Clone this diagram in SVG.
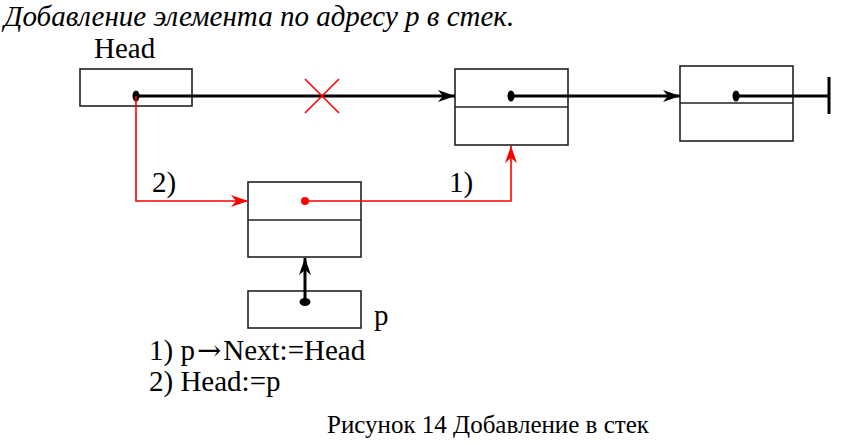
<svg xmlns="http://www.w3.org/2000/svg" width="850" height="445" viewBox="0 0 850 445">
<style>
.box{fill:none;stroke:#222;stroke-width:1.6}
.t{font-family:"Liberation Serif","Times New Roman",serif;fill:#000}
.blk{stroke:#000;stroke-width:3;fill:none}
.red{stroke:#f00;stroke-width:1.6;fill:none}
</style>
<defs>
<marker id="ab" markerWidth="18" markerHeight="12" refX="17" refY="6" orient="auto" markerUnits="userSpaceOnUse">
<path d="M0,0 L17,6 L0,12 L5,6 Z" fill="#000"/>
</marker>
<marker id="ar" markerWidth="18" markerHeight="12" refX="17" refY="6" orient="auto" markerUnits="userSpaceOnUse">
<path d="M0,0 L17,6 L0,12 L5,6 Z" fill="#f00"/>
</marker>
</defs>
<rect width="850" height="445" fill="#fff"/>
<text class="t" x="4" y="26" font-size="29" font-style="italic">Добавление элемента по адресу p в стек.</text>
<g id="head">
<text class="t" x="94" y="58" font-size="29">Head</text>
<rect class="box" x="80" y="69" width="112" height="37"/>
<ellipse cx="136" cy="96" rx="3.5" ry="5.5"/>
</g>
<g id="node2">
<rect class="box" x="455" y="69" width="113" height="76"/>
<line class="box" x1="455" y1="107" x2="568" y2="107"/>
<ellipse cx="511" cy="96" rx="3.5" ry="5.5"/>
</g>
<g id="node3">
<rect class="box" x="680" y="66" width="113" height="75"/>
<line class="box" x1="680" y1="103" x2="793" y2="103"/>
<ellipse cx="736" cy="96" rx="3.5" ry="5.5"/>
</g>
<g id="newnode">
<rect class="box" x="248" y="182" width="113" height="75"/>
<line class="box" x1="248" y1="220" x2="361" y2="220"/>
<circle cx="305" cy="201" r="4" fill="#f00"/>
</g>
<g id="p">
<rect class="box" x="248" y="291" width="113" height="37"/>
<ellipse cx="305" cy="302" rx="5.5" ry="4"/>
<text class="t" x="374" y="325" font-size="29">p</text>
</g>
<g id="connectors">
<line class="blk" x1="136" y1="96" x2="455" y2="96" marker-end="url(#ab)"/>
<line class="blk" x1="511" y1="96" x2="680" y2="96" marker-end="url(#ab)"/>
<line class="blk" x1="736" y1="96" x2="829" y2="96"/>
<line class="blk" x1="829" y1="77" x2="829" y2="114"/>
<line class="blk" x1="305" y1="302" x2="305" y2="258" marker-end="url(#ab)"/>
<polyline class="red" points="136,96 136,201 248,201" marker-end="url(#ar)"/>
<polyline class="red" points="305,201 511,201 511,146" marker-end="url(#ar)"/>
<line class="red" x1="305" y1="79" x2="339" y2="113"/>
<line class="red" x1="339" y1="79" x2="305" y2="113"/>
<text class="t" x="152" y="192" font-size="29">2)</text>
<text class="t" x="449" y="192" font-size="29">1)</text>
</g>
<text class="t" x="149" y="360" font-size="29">1) p<tspan font-family="'DejaVu Serif',serif" font-size="29" dx="2">→</tspan><tspan dx="2">Next:=Head</tspan></text>
<text class="t" x="149" y="391" font-size="29">2) Head:=p</text>
<text class="t" x="327" y="433" font-size="25">Рисунок 14 Добавление в стек</text>
</svg>
